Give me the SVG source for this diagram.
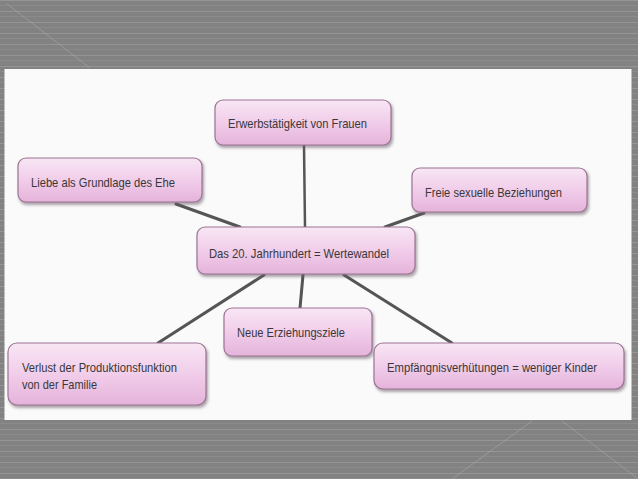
<svg xmlns="http://www.w3.org/2000/svg" width="638" height="479" viewBox="0 0 638 479">
<defs>
<pattern id="stripes" width="638" height="11" patternUnits="userSpaceOnUse">
<rect width="638" height="11" fill="#828282"/>
<rect y="0" width="638" height="1" fill="#959595"/>
<rect y="5" width="638" height="1" fill="#8b8b8b"/>
</pattern>
<linearGradient id="pink" x1="0" y1="0" x2="0" y2="1">
<stop offset="0" stop-color="#f8e6f4"/>
<stop offset="0.5" stop-color="#f1cdea"/>
<stop offset="1" stop-color="#e5b3da"/>
</linearGradient>
<filter id="sh" x="-10%" y="-20%" width="120%" height="150%">
<feGaussianBlur stdDeviation="1.5"/>
</filter>
<style>
.box{fill:url(#pink);stroke:#9c7494;stroke-width:1.2}
.shadow{fill:#6a5a66;opacity:0.55;filter:url(#sh)}
.t{font-family:"Liberation Sans",Arial,sans-serif;font-size:13px;fill:#383838}
.c{stroke:#555;stroke-width:3;fill:none;stroke-linecap:round}
</style>
</defs>
<rect width="638" height="479" fill="url(#stripes)"/>
<g stroke="#a8a8a8" stroke-width="1" opacity="0.6">
<line x1="6" y1="3" x2="90" y2="68"/>
<line x1="532" y1="421" x2="452" y2="479"/>
<line x1="562" y1="421" x2="637" y2="478"/>
</g>
<rect x="4.5" y="69" width="627" height="351" fill="#fafafa"/>
<g id="connectors">
<line class="c" x1="304" y1="146" x2="305" y2="227" style="stroke-width:2.5"/>
<line class="c" x1="176" y1="204" x2="240" y2="227"/>
<line class="c" x1="424" y1="213" x2="385" y2="227"/>
<line class="c" x1="264" y1="275" x2="158" y2="343"/>
<line class="c" x1="303" y1="275" x2="300" y2="308"/>
<line class="c" x1="344" y1="275" x2="452" y2="343"/>
</g>
<g id="n-erwerb">
<rect class="shadow" x="216" y="102" width="177" height="46" rx="8"/>
<rect class="box" x="215" y="100" width="176" height="45" rx="8"/>
<text class="t" x="228" y="127.5" textLength="139" lengthAdjust="spacingAndGlyphs">Erwerbstätigkeit von Frauen</text>
</g>
<g id="n-liebe">
<rect class="shadow" x="19" y="160" width="185" height="45" rx="8"/>
<rect class="box" x="18" y="158" width="184" height="44" rx="8"/>
<text class="t" x="31" y="186.5" textLength="144" lengthAdjust="spacingAndGlyphs">Liebe als Grundlage des Ehe</text>
</g>
<g id="n-freie">
<rect class="shadow" x="413" y="170" width="176" height="45" rx="8"/>
<rect class="box" x="412" y="168" width="175" height="44" rx="8"/>
<text class="t" x="425" y="196.5" textLength="137" lengthAdjust="spacingAndGlyphs">Freie sexuelle Beziehungen</text>
</g>
<g id="n-center">
<rect class="shadow" x="198" y="229" width="219" height="48" rx="8"/>
<rect class="box" x="197" y="227" width="218" height="47" rx="8"/>
<text class="t" x="209" y="257.5" textLength="180" lengthAdjust="spacingAndGlyphs">Das 20. Jahrhundert = Wertewandel</text>
</g>
<g id="n-verlust">
<rect class="shadow" x="9" y="345" width="199" height="63" rx="9"/>
<rect class="box" x="8" y="343" width="198" height="62" rx="9"/>
<text class="t" x="22" y="371.5" textLength="155" lengthAdjust="spacingAndGlyphs">Verlust der Produktionsfunktion</text>
<text class="t" x="22" y="388.5" textLength="75" lengthAdjust="spacingAndGlyphs">von der Familie</text>
</g>
<g id="n-neue">
<rect class="shadow" x="225" y="310" width="149" height="49" rx="8"/>
<rect class="box" x="224" y="308" width="148" height="48" rx="8"/>
<text class="t" x="237" y="336.5" textLength="108" lengthAdjust="spacingAndGlyphs">Neue Erziehungsziele</text>
</g>
<g id="n-empf">
<rect class="shadow" x="375" y="345" width="251" height="47" rx="9"/>
<rect class="box" x="374" y="343" width="250" height="46" rx="9"/>
<text class="t" x="387" y="371.5" textLength="210" lengthAdjust="spacingAndGlyphs">Empfängnisverhütungen = weniger Kinder</text>
</g>
</svg>
